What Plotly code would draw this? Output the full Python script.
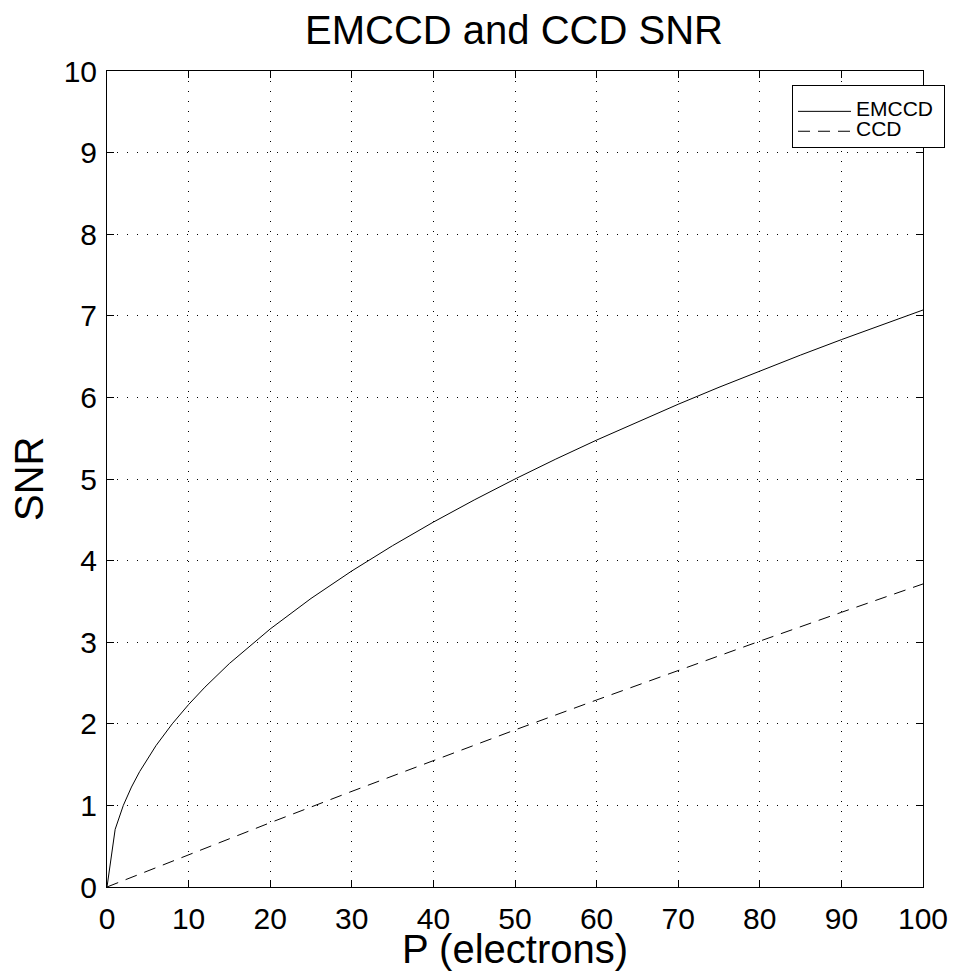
import plotly.graph_objects as go

# Photon signal P (electrons)
p_emccd = [0, 1, 2, 3, 4, 5, 6, 8, 10, 12, 15, 20, 25, 30, 35, 40, 45, 50,
           55, 60, 65, 70, 75, 80, 85, 90, 95, 100]
snr_emccd = [0, 0.707, 1.0, 1.225, 1.414, 1.581, 1.732, 2.0, 2.236, 2.449, 2.739,
             3.162, 3.536, 3.873, 4.183, 4.472, 4.743, 5.0, 5.244, 5.477, 5.701,
             5.916, 6.124, 6.325, 6.519, 6.708, 6.892, 7.071]

p_ccd = [0, 10, 20, 30, 40, 50, 60, 70, 80, 90, 100]
snr_ccd = [0, 0.397, 0.788, 1.172, 1.551, 1.925, 2.292, 2.655, 3.013, 3.366, 3.714]

x_ticks = [0, 10, 20, 30, 40, 50, 60, 70, 80, 90, 100]
y_ticks = [0, 1, 2, 3, 4, 5, 6, 7, 8, 9, 10]

series_names = ["EMCCD", "CCD"]

FONT = "Liberation Sans, Arial, Helvetica, sans-serif"

# The page body adds an 8px margin; the figure is sized to fit the window.
W, H = 948, 969
ML, MT, MR, MB = 99, 63, 33, 90
PW = W - ML - MR
PH = H - MT - MB


def legend_label(name):
    return '<span style="font-size:21px">' + name + "&nbsp;</span>"


fig = go.Figure()
fig.add_trace(go.Scatter(x=p_emccd, y=snr_emccd, mode="lines",
                         name=legend_label(series_names[0]),
                         line=dict(color="black", width=1)))
fig.add_trace(go.Scatter(x=p_ccd, y=snr_ccd, mode="lines",
                         name=legend_label(series_names[1]),
                         line=dict(color="black", width=1, dash="12px,8px")))

axis_common = dict(
    showline=True, linecolor="black", linewidth=1, mirror="ticks",
    ticks="inside", ticklen=7, tickcolor="black", tickwidth=1,
    showgrid=True, gridcolor="black", gridwidth=1, griddash="1px,9px",
    zeroline=False, automargin=False,
    tickfont=dict(family=FONT, size=30, color="black"),
)

fig.update_layout(
    width=W, height=H,
    paper_bgcolor="white", plot_bgcolor="white",
    margin=dict(l=ML, r=MR, t=MT, b=MB, autoexpand=False),
    title=dict(text="EMCCD and CCD SNR", x=506 / W, xanchor="center",
               y=1 - 22 / H, yanchor="middle",
               font=dict(family=FONT, size=40, color="black")),
    xaxis=dict(range=[0, 100], tickvals=x_ticks, ticklabelstandoff=5,
               **axis_common),
    yaxis=dict(range=[0, 10], tickvals=y_ticks, ticklabelstandoff=3,
               **axis_common),
    legend=dict(x=(784 - ML) / PW, y=1 - (77 - MT) / PH,
                xanchor="left", yanchor="top",
                bgcolor="white", bordercolor="black", borderwidth=1,
                font=dict(family=FONT, size=13, color="black"),
                title=dict(text="&nbsp;", font=dict(family=FONT, size=8)),
                tracegroupgap=0, itemwidth=53),
    showlegend=True,
    annotations=[
        dict(text="P (electrons)", xref="paper", yref="paper",
             x=0.5, y=-(941 - MT - PH) / PH, xanchor="center", yanchor="middle",
             showarrow=False, font=dict(family=FONT, size=40, color="black")),
        dict(text="SNR", xref="paper", yref="paper", textangle=-90,
             x=(21 - ML) / PW, y=0.5, xanchor="center", yanchor="middle",
             showarrow=False, font=dict(family=FONT, size=40, color="black")),
    ],
)

fig.write_html("out.html")
